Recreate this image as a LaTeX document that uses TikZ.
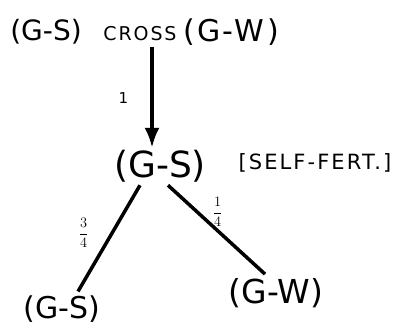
\documentclass[tikz,border=0pt]{standalone}
\usepackage{fontspec}
\setmainfont{DejaVu Sans}
\usetikzlibrary{arrows.meta}

\begin{document}
\begin{tikzpicture}[x=1pt,y=-1pt,>={Latex[length=20pt,width=15pt]},
  cross/.style={font=\fontsize{28}{30}\selectfont,inner sep=0pt},
  gene/.style={font=\fontsize{36}{38}\selectfont,inner sep=0pt},
  ratio/.style={font=\fontsize{15}{17}\selectfont,inner sep=0pt},
  link/.style={line width=3.5pt}]
  \useasboundingbox (0,0) rectangle (396,332);

  % Parents
  \node[cross] (gsTop) at (46,32) {(G-S)};
  \node[cross,font=\fontsize{19}{21}\selectfont\addfontfeatures{LetterSpace=10}] (cross) at (140,34) {CROSS};
  \node[cross,font=\fontsize{30}{32}\selectfont\addfontfeatures{LetterSpace=8}] (gwTop) at (231,32) {(G-W)};

  % First generation
  \node[gene] (gsMid) at (160,166) {(G-S)};
  \node[cross,font=\fontsize{21}{23}\selectfont\addfontfeatures{LetterSpace=10}] (selfFert) at (315,163) {[SELF-FERT.]};
  \draw[->,link] ([xshift=12pt,yshift=-6pt]cross.south) -- ([xshift=-8pt,yshift=2pt]gsMid.north)
    node[ratio,midway,left=22pt] {1};

  % Second generation
  \node[gene,font=\fontsize{30}{32}\selectfont] (gsLeft) at (62,309) {(G-S)};
  \node[gene,font=\fontsize{33}{35}\selectfont] (gwRight) at (276,293) {(G-W)};
  \draw[link] ([xshift=-20pt,yshift=-3pt]gsMid.south) -- ([xshift=16pt,yshift=4pt]gsLeft.north)
    node[ratio,pos=0.45,left=22pt] {$\displaystyle\frac{3}{4}$};
  \draw[link] ([xshift=8pt,yshift=-3pt]gsMid.south) -- ([xshift=-11pt,yshift=4pt]gwRight.north)
    node[ratio,pos=0.3,right=14pt] {$\displaystyle\frac{1}{4}$};
\end{tikzpicture}
\end{document}
